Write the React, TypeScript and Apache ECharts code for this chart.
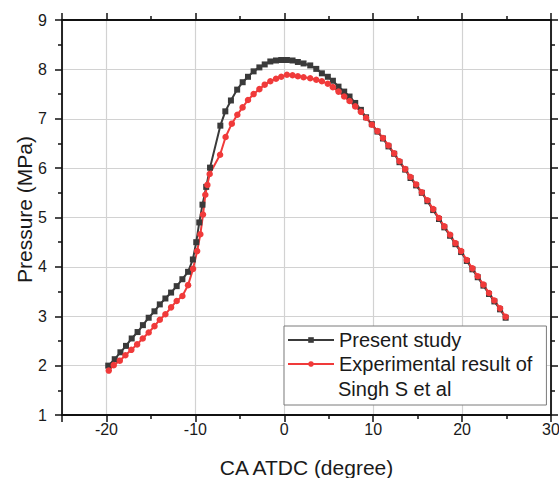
import React, { useEffect, useRef } from "react";
import * as echarts from "echarts";

const presentX = [
  -19.8, -19.07, -18.43, -17.8, -17.16, -16.5, -15.9, -15.25, -14.6, -14.0,
  -13.37, -12.73, -12.1, -11.46, -10.82, -10.28, -9.9, -9.56, -9.2, -8.78,
  -8.35, -7.19, -6.63, -6.0, -5.3, -4.68, -4.08, -3.45, -2.8, -2.2,
  -1.57, -0.93, -0.34, 0.3, 0.93, 1.53, 2.17, 2.92, 3.6, 4.23,
  4.9, 5.47, 6.1, 6.74, 7.34, 7.98, 8.62, 9.2, 9.85, 10.48,
  11.1, 11.72, 12.36, 12.96, 13.6, 14.2, 14.83, 15.47, 16.1, 16.75,
  17.4, 18.0, 18.65, 19.25, 19.89, 20.53, 21.16, 21.76, 22.4, 23.03,
  23.63, 24.27, 24.9,
];
const presentY = [
  2.0, 2.13, 2.27, 2.4, 2.55, 2.68, 2.82, 2.97, 3.1, 3.24,
  3.36, 3.48, 3.61, 3.75, 3.9, 4.15, 4.5, 4.9, 5.26, 5.62,
  6.01, 6.86, 7.15, 7.37, 7.59, 7.74, 7.85, 7.96, 8.04, 8.1,
  8.16, 8.18, 8.19, 8.19, 8.18, 8.15, 8.12, 8.08, 8.01, 7.92,
  7.85, 7.77, 7.65, 7.55, 7.45, 7.32, 7.18, 7.03, 6.89, 6.74,
  6.6, 6.44, 6.29, 6.12, 5.97, 5.8, 5.65, 5.5, 5.33, 5.15,
  4.97, 4.8, 4.63, 4.46, 4.3, 4.12, 3.95, 3.79, 3.62, 3.45,
  3.3, 3.14, 2.97,
];

const expX = [
  -19.74, -19.18, -18.5, -17.87, -17.2, -16.55, -15.92, -15.25, -14.6, -14.0,
  -13.37, -12.73, -12.1, -11.46, -10.82, -10.26, -9.8, -9.44, -9.14, -8.88,
  -8.65, -8.39, -7.22, -6.6, -5.9, -5.28, -4.69, -4.08, -3.45, -2.8,
  -2.2, -1.57, -0.93, -0.34, 0.3, 0.93, 1.53, 2.17, 2.92, 3.6,
  4.23, 4.9, 5.47, 6.1, 6.74, 7.34, 7.98, 8.62, 9.2, 9.85,
  10.48, 11.1, 11.72, 12.36, 12.96, 13.6, 14.2, 14.83, 15.47, 16.1,
  16.75, 17.4, 18.0, 18.65, 19.25, 19.89, 20.53, 21.16, 21.76, 22.4,
  23.03, 23.63, 24.27, 24.9,
];
const expY = [
  1.9, 2.01, 2.1, 2.21, 2.32, 2.43, 2.55, 2.67, 2.8, 2.93,
  3.04, 3.18, 3.31, 3.41, 3.63, 3.96, 4.32, 4.66, 5.06, 5.46,
  5.66, 5.88, 6.27, 6.63, 6.9, 7.08, 7.23, 7.38, 7.5, 7.6,
  7.69, 7.76, 7.81, 7.85, 7.89, 7.88, 7.86, 7.84, 7.82, 7.79,
  7.76, 7.71, 7.64, 7.55, 7.45, 7.36, 7.25, 7.14, 7.02, 6.88,
  6.75, 6.61, 6.46, 6.3, 6.14, 5.98, 5.82, 5.67, 5.51, 5.35,
  5.17, 4.99, 4.82, 4.65, 4.48, 4.32, 4.14, 3.97, 3.81, 3.64,
  3.47, 3.32, 3.16, 2.99,
];

const presentName = "Present study";
const expName = "Experimental result of Singh S et al";
const expLine1 = "Experimental result of";
const expLine2 = "Singh S et al";
const xTitle = "CA ATDC (degree)";
const yTitle = "Pressure (MPa)";

const FONT = "'Liberation Sans', Arial, Helvetica, sans-serif";
const TEXT = "#1a1a1a";

export default function App() {
  const ref = useRef<HTMLDivElement>(null);
  useEffect(() => {
    if (!ref.current) return;
    const chart = echarts.init(ref.current, undefined, { renderer: "svg" });
    const axisLine = { show: true, onZero: false, lineStyle: { color: "#111", width: 1.8 } };
    const axisTick = { show: true, inside: false, length: 7, lineStyle: { color: "#111", width: 1.5 } };
    const minorTick = { show: true, splitNumber: 2, length: 4, lineStyle: { color: "#111", width: 1.5 } };
    const xBase = { type: "value", min: -25, max: 30, splitNumber: 5 };
    const yBase = { type: "value", min: 1, max: 9, interval: 1 };
    chart.setOption({
      animation: false,
      backgroundColor: "#fff",
      textStyle: { fontFamily: FONT },
      grid: { left: 62, right: 8, top: 20, bottom: 63, containLabel: false, outerBoundsMode: "none" },
      xAxis: [
        {
          ...xBase,
          position: "bottom",
          name: xTitle,
          nameLocation: "middle",
          nameGap: 40,
          nameMoveOverlap: false,
          nameTextStyle: { fontSize: 21, lineHeight: 24, color: TEXT, fontFamily: FONT },
          axisLine,
          axisTick,
          minorTick,
          axisLabel: { show: true, showMinLabel: false, margin: 5, fontSize: 16, lineHeight: 18, color: TEXT, fontFamily: FONT },
          splitLine: { show: true, lineStyle: { color: "#d2d2d2", width: 1.2 } },
        },
        {
          ...xBase,
          position: "top",
          axisLine,
          axisTick,
          minorTick,
          axisLabel: { show: false },
          splitLine: { show: false },
        },
      ],
      yAxis: [
        {
          ...yBase,
          position: "left",
          name: yTitle,
          nameLocation: "middle",
          nameGap: 26,
          nameMoveOverlap: false,
          nameTextStyle: { fontSize: 21, lineHeight: 24, color: TEXT, fontFamily: FONT, padding: [0, 0, 0, 16] },
          axisLine,
          axisTick,
          minorTick,
          axisLabel: { show: true, margin: 15, fontSize: 16, color: TEXT, fontFamily: FONT },
          splitLine: { show: true, lineStyle: { color: "#d2d2d2", width: 1.2 } },
        },
        {
          ...yBase,
          position: "right",
          axisLine,
          axisTick,
          minorTick,
          axisLabel: { show: false },
          splitLine: { show: false },
        },
      ],
      legend: {
        orient: "vertical",
        left: 284,
        top: 326,
        padding: [2, 14, 29, 3],
        itemGap: 0,
        itemWidth: 46,
        itemHeight: 7,
        borderColor: "#7a7a7a",
        borderWidth: 1,
        backgroundColor: "#fff",
        data: [presentName, expName],
        formatter: (name: string) => (name === expName ? expLine1 : name),
        textStyle: { fontSize: 20, lineHeight: 24, color: TEXT, fontFamily: FONT },
      },
      graphic: [
        {
          type: "text",
          x: 338,
          y: 388.5,
          z: 100,
          style: {
            text: expLine2,
            fontSize: 20,
            fontFamily: FONT,
            fill: TEXT,
            align: "left",
            verticalAlign: "middle",
          },
        },
      ],
      series: [
        {
          type: "line",
          name: presentName,
          xAxisIndex: 0,
          yAxisIndex: 0,
          data: presentX.map((x, i) => [x, presentY[i]]),
          symbol: "rect",
          symbolSize: 6,
          showSymbol: true,
          lineStyle: { color: "#3a3a3a", width: 2 },
          itemStyle: { color: "#3a3a3a" },
        },
        {
          type: "line",
          name: expName,
          xAxisIndex: 0,
          yAxisIndex: 0,
          data: expX.map((x, i) => [x, expY[i]]),
          symbol: "circle",
          symbolSize: 6.5,
          showSymbol: true,
          lineStyle: { color: "#f03a3a", width: 2 },
          itemStyle: { color: "#f03a3a" },
        },
      ],
    });
    return () => chart.dispose();
  }, []);
  return (
    <div
      ref={ref}
      style={{ position: "absolute", left: 0, top: 0, width: 559, height: 478 }}
    />
  );
}
